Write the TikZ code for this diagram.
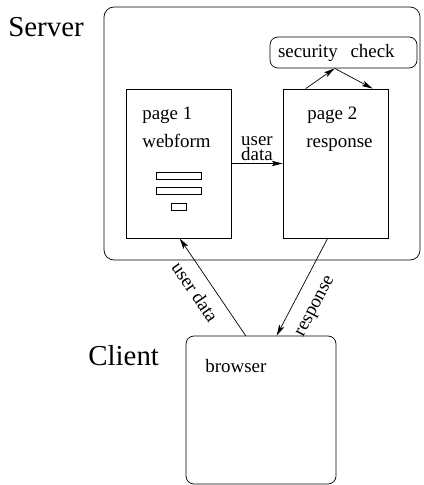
\documentclass[tikz,border=0pt]{standalone}
\usepackage{fontspec}
\setmainfont{Liberation Serif}
\usetikzlibrary{arrows.meta,positioning}
\tikzstyle{host} = [rectangle, draw, rounded corners=10bp, inner sep=0pt]
\tikzstyle{pagebox} = [rectangle, draw, minimum width=105bp, minimum height=149bp, inner sep=0pt]
\tikzstyle{field} = [rectangle, draw, minimum height=7bp, inner sep=0pt]
\tikzstyle{txt} = [font=\fontsize{19}{16}\selectfont, inner sep=0pt]
\tikzstyle{big} = [font=\fontsize{29}{32}\selectfont, inner sep=0pt]
\tikzstyle{line} = [draw, -{Stealth[length=11bp,width=5.5bp,inset=2.5bp]}]

\begin{document}
\begin{tikzpicture}[x=1bp, y=-1bp, line width=0.7bp]
      \useasboundingbox (0,0) rectangle (423,485);
      % server side
      \node [host, minimum width=316bp, minimum height=253bp] (server) at (262,133.5) {};
      \node [big, anchor=base west] (servername) at (8,37) {Server};
      \node [host, txt, rounded corners=8bp, minimum height=31bp, text width=131bp,
         inner xsep=8bp, align=left] (check) at (343.5,52.5) {security\ \ check};
      \node [pagebox] (page1) at (178.5,163.5) {};
      \node [pagebox] (page2) at (335.5,163.5) {};
      \node [txt, anchor=base west] (title1) at (142,120) {page 1};
      \node [txt, anchor=base west] (kind1) at (142,148) {webform};
      \node [txt, anchor=base west] (title2) at (307,120) {page 2};
      \node [txt, anchor=base west] (kind2) at (306,148) {response};
      \node [field, minimum width=45bp] (f1) at (178.5,175.5) {};
      \node [field, minimum width=45bp, below=8bp of f1] (f2) {};
      \node [field, minimum width=15bp, below=8bp of f2] (f3) {};
      % client side
      \node [host, rounded corners=8bp, minimum width=150bp, minimum height=148bp] (browser)
         at (261,410) {};
      \node [big, anchor=base west] (clientname) at (88,365) {Client};
      \node [txt, anchor=base west] (browsername) at (205,372) {browser};

      \path [line] (page1.east) -- node [txt, above=2bp, align=center] (post) {user\\data} (page2.west);
      \path [line] ([xshift=23bp]page2.north west) -- ([xshift=65bp]check.south west);
      \path [line] ([xshift=65bp]check.south west) -- ([xshift=90bp]page2.north west);
      \path [line] ([xshift=60bp]browser.north west) --
         node [txt, sloped, pos=0.55, below=10bp] (send) {user data} ([xshift=54bp]page1.south west);
      \path [line] ([xshift=45bp]page2.south west) --
         node [txt, sloped, pos=0.6, below=15bp] (reply) {response} ([xshift=91bp]browser.north west);
   \end{tikzpicture}
\end{document}
